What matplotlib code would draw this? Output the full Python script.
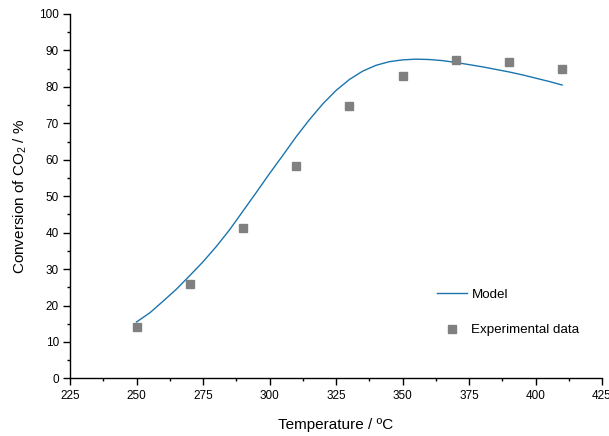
import numpy as np
import matplotlib
matplotlib.use('Agg')
import matplotlib.pyplot as plt
from matplotlib.ticker import MultipleLocator

plt.rcParams['font.family'] = ['Liberation Sans', 'DejaVu Sans']
plt.rcParams['mathtext.default'] = 'regular'

# model prediction
temp_model = [250, 255, 260, 265, 270, 275, 280, 285, 290, 295, 300, 305, 310, 315, 320, 325, 330,
              335, 340, 345, 350, 355, 360, 365, 370, 375, 380, 385, 390, 395, 400, 405, 410]
conv_model = [15.5, 18.0, 21.2, 24.5, 28.2, 32.0, 36.2, 40.8, 45.9, 51.0, 56.2, 61.2, 66.3, 71.0,
              75.3, 79.0, 82.0, 84.3, 85.9, 86.9, 87.4, 87.6, 87.5, 87.2, 86.7, 86.1, 85.5, 84.8,
              84.1, 83.3, 82.4, 81.5, 80.5]

# experimental points
temp_exp = [250, 270, 290, 310, 330, 350, 370, 390, 410]
conv_exp = [14.0, 25.8, 41.3, 58.3, 74.8, 83.0, 87.4, 86.9, 84.8]

fig = plt.figure(figsize=(6.09, 4.36), dpi=100)
ax = fig.add_axes([0.115, 0.132, 0.8735, 0.836])

ax.plot(temp_model, conv_model, color='#1b75ad', lw=1.0, label='Model')
ax.plot(temp_exp, conv_exp, ls='none', marker='s', ms=6.3, color='#808080', label='Experimental data')

ax.set_xlim(225, 425)
ax.set_ylim(0, 100)
ax.xaxis.set_major_locator(MultipleLocator(25))
ax.xaxis.set_minor_locator(MultipleLocator(12.5))
ax.yaxis.set_major_locator(MultipleLocator(10))
ax.yaxis.set_minor_locator(MultipleLocator(5))

for s in ['top', 'right']:
    ax.spines[s].set_visible(False)
for s in ['left', 'bottom']:
    ax.spines[s].set_linewidth(1.0)

ax.tick_params(which='major', direction='out', length=5, width=1.0, labelsize=8.5, pad=3)
ax.tick_params(which='minor', direction='out', length=2.5, width=1.0)

ax.set_xlabel('Temperature / ºC', fontsize=11, labelpad=12)
ax.set_ylabel('Conversion of CO$_{2}$ / %', fontsize=11, labelpad=7)

ax.legend(loc='upper left', bbox_to_anchor=(0.668, 0.279), frameon=False, fontsize=9.6,
          handlelength=2.2, labelspacing=1.72, handletextpad=0.35)

fig.savefig('out.png', dpi=100)
